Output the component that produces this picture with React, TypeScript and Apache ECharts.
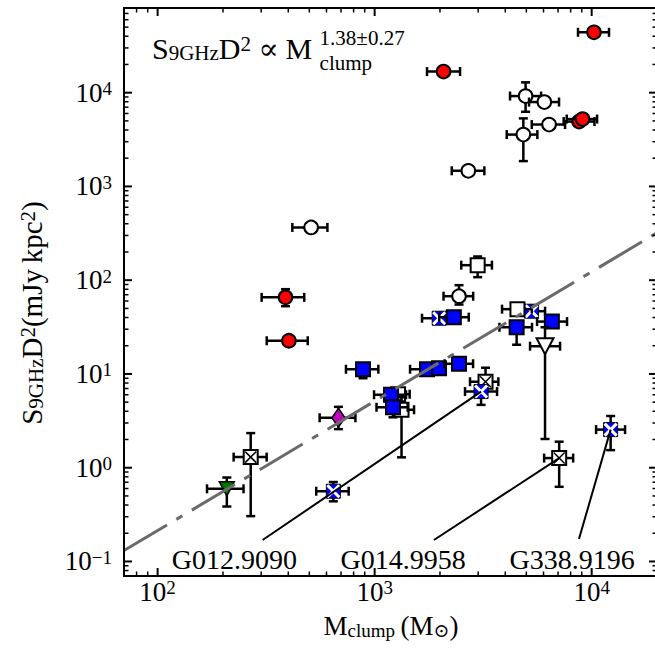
import React, { useEffect, useRef } from 'react';
import * as echarts from 'echarts';

const FONT = '"Liberation Serif", "DejaVu Serif", "Times New Roman", serif';

// Axis extents (log axes)
const X_RANGE = [70, 20000];
const Y_RANGE = [0.07, 80000];
const X_MAJOR = [100, 1000, 10000];
const Y_MAJOR = [0.1, 1, 10, 100, 1000, 10000];

// Power-law fit: S9GHz D^2 = 10^FIT_LOG_NORM * Mclump^FIT_SLOPE
const FIT_SLOPE = 1.38;
const FIT_LOG_NORM = -3.43;

// Each row: [Mclump, S9GHz D^2, M low, M high, S low, S high]
const redCircles = [
  [10250, 44050, 8650, 12020, 44050, 44050],
  [2077, 16800, 1743, 2475, 16800, 16800],
  [8750, 4920, 7430, 10300, 4920, 4920],
  [9078, 5230, 7677, 10590, 5230, 5230],
  [388.5, 65.6, 301.5, 473.8, 52.8, 80.2],
  [402.7, 22.6, 318.2, 491.6, 20.0, 25.0],
];

const openCircles = [
  [4960, 9203, 4206, 5847, 6256, 12880],
  [6053, 7943, 5146, 7073, 7943, 7943],
  [6363, 4569, 5296, 7542, 4569, 4569],
  [4844, 3573, 4061, 5620, 1863, 5320],
  [2702, 1468, 2266, 3203, 1468, 1468],
  [509.7, 365.3, 417.6, 605.9, 365.3, 365.3],
  [2448, 67.5, 2077, 2844, 55.0, 88.5],
];

const crossedBoxes = [
  [268.5, 1.298, 224, 318, 0.3046, 2.34],
  [3243, 8.26, 2751, 3716, 8.26, 11.65],
  [7084, 1.267, 6039, 8217, 0.626, 1.895],
];

const blueCrossBoxes = [
  [1984, 39.3, 1653, 2330, 39.3, 39.3],
  [5285, 46.7, 4700, 6100, 46.7, 46.7],
  [3093, 6.49, 2609, 3665, 4.68, 7.5],
  [645, 0.5614, 538, 759, 0.438, 0.704],
  [12230, 2.55, 10480, 14250, 1.54, 3.56],
];

const openSquares = [
  [2983, 144.6, 2506, 3471, 107.7, 179],
  [4550, 49.1, 3864, 5300, 49.1, 49.1],
  [1282, 6.08, 1150, 1450, 6.08, 6.08],
  [1330, 4.15, 1150, 1519, 1.29, 5.64],
];

const blueSquares = [
  [884.2, 11.23, 737.6, 1040, 9.0, 11.23],
  [1743, 11.23, 1456, 1743, 9.69, 11.23],
  [1980, 11.51, 1980, 1980, 11.51, 11.51],
  [2448, 12.85, 2100, 2841, 12.85, 12.85],
  [1190, 6.0, 993.6, 1395, 6.0, 6.0],
  [1215, 4.41, 1020, 1420, 3.45, 4.41],
  [2317, 40.3, 1984, 2714, 40.3, 40.3],
  [4511, 31.5, 3760, 5310, 20.5, 31.5],
  [6554, 36.2, 5602, 7700, 36.2, 36.2],
];

const magentaDiamonds = [[681, 3.41, 557.8, 815.5, 2.58, 4.46]];
const greenTriangles = [[208.4, 0.5957, 168.9, 248.8, 0.3858, 0.786]];
const openTriangles = [[6097, 19.76, 5201, 7150, 2.025, 31.5]];

// Named sources with leader lines
const sourceNames = ['G012.9090', 'G014.9958', 'G338.9196'];
const labelAnchors = [[225.6, 0.1054], [1354, 0.1054], [8131, 0.1054]];
const leaderStarts = [[304.7, 0.1693], [1876, 0.1693], [8740, 0.1735]];
const leaderEnds = [[3093, 6.49], [7084, 1.267], [12230, 2.55]];

type Kind =
  | 'redCircle' | 'openCircle' | 'crossedBox' | 'blueCross'
  | 'openSquare' | 'blueSquare' | 'diamond' | 'greenTri' | 'openTri';

function markerShapes(kind: Kind, cx: number, cy: number): any[] {
  const edge = { stroke: '#000', lineWidth: 2 };
  const h = 7;
  switch (kind) {
    case 'redCircle':
      return [{ type: 'circle', shape: { cx, cy, r: 6.8 }, style: { fill: '#ff0000', ...edge } }];
    case 'openCircle':
      return [{ type: 'circle', shape: { cx, cy, r: 6.8 }, style: { fill: '#ffffff', ...edge } }];
    case 'openSquare':
      return [{ type: 'rect', shape: { x: cx - h, y: cy - h, width: 2 * h, height: 2 * h }, style: { fill: '#ffffff', ...edge } }];
    case 'blueSquare':
      return [{ type: 'rect', shape: { x: cx - h, y: cy - h, width: 2 * h, height: 2 * h }, style: { fill: '#0000ff', ...edge } }];
    case 'crossedBox': {
      const k = h - 1.5;
      return [
        { type: 'rect', shape: { x: cx - h, y: cy - h, width: 2 * h, height: 2 * h }, style: { fill: '#ffffff', ...edge } },
        { type: 'line', shape: { x1: cx - k, y1: cy - k, x2: cx + k, y2: cy + k }, style: { stroke: '#000', lineWidth: 1.5 } },
        { type: 'line', shape: { x1: cx - k, y1: cy + k, x2: cx + k, y2: cy - k }, style: { stroke: '#000', lineWidth: 1.5 } },
      ];
    }
    case 'blueCross': {
      const k = h - 1;
      return [
        { type: 'rect', shape: { x: cx - h, y: cy - h, width: 2 * h, height: 2 * h }, style: { fill: '#0000ff', stroke: '#000', lineWidth: 1 } },
        { type: 'line', shape: { x1: cx - k, y1: cy - k, x2: cx + k, y2: cy + k }, style: { stroke: '#ffffff', lineWidth: 3 } },
        { type: 'line', shape: { x1: cx - k, y1: cy + k, x2: cx + k, y2: cy - k }, style: { stroke: '#ffffff', lineWidth: 3 } },
      ];
    }
    case 'diamond':
      return [{
        type: 'polygon',
        shape: { points: [[cx, cy - 9.5], [cx + 6.5, cy], [cx, cy + 9.5], [cx - 6.5, cy]] },
        style: { fill: '#bf00bf', stroke: '#000', lineWidth: 1.5 },
      }];
    case 'greenTri':
      return [{
        type: 'polygon',
        shape: { points: [[cx - 7.5, cy - 7], [cx + 7.5, cy - 7], [cx, cy + 7]] },
        style: { fill: '#007800', stroke: '#000', lineWidth: 1.5 },
      }];
    case 'openTri':
      return [{
        type: 'polygon',
        shape: { points: [[cx - 8.5, cy - 8], [cx + 8.5, cy - 8], [cx, cy + 8]] },
        style: { fill: '#ffffff', stroke: '#000', lineWidth: 2 },
      }];
  }
  return [];
}

// Error bars with caps, then the marker on top
function pointRenderer(kind: Kind) {
  return (_params: any, api: any) => {
    const x = api.value(0);
    const y = api.value(1);
    const c = api.coord([x, y]);
    const xl = api.coord([api.value(2), y])[0];
    const xh = api.coord([api.value(3), y])[0];
    const yl = api.coord([x, api.value(4)])[1];
    const yh = api.coord([x, api.value(5)])[1];
    const bar = { stroke: '#000', lineWidth: 2.5 };
    const cap = 4.5;
    const children: any[] = [];
    if (Math.abs(xh - xl) > 0.5) {
      children.push({ type: 'line', shape: { x1: xl, y1: c[1], x2: xh, y2: c[1] }, style: bar });
      if (c[0] - xl > 0.5) children.push({ type: 'line', shape: { x1: xl, y1: c[1] - cap, x2: xl, y2: c[1] + cap }, style: bar });
      if (xh - c[0] > 0.5) children.push({ type: 'line', shape: { x1: xh, y1: c[1] - cap, x2: xh, y2: c[1] + cap }, style: bar });
    }
    if (Math.abs(yl - yh) > 0.5) {
      children.push({ type: 'line', shape: { x1: c[0], y1: yh, x2: c[0], y2: yl }, style: bar });
      if (yl - c[1] > 0.5) children.push({ type: 'line', shape: { x1: c[0] - cap, y1: yl, x2: c[0] + cap, y2: yl }, style: bar });
      if (c[1] - yh > 0.5) children.push({ type: 'line', shape: { x1: c[0] - cap, y1: yh, x2: c[0] + cap, y2: yh }, style: bar });
    }
    children.push(...markerShapes(kind, c[0], c[1]));
    return { type: 'group', children };
  };
}

function pointSeries(name: string, rows: number[][], kind: Kind) {
  return {
    name,
    type: 'custom',
    coordinateSystem: 'cartesian2d',
    renderItem: pointRenderer(kind),
    encode: { x: 0, y: 1 },
    data: rows,
    clip: false,
    silent: true,
  };
}

const powerLabel = (v: number) => {
  const e = Math.log10(v);
  const r = Math.round(e);
  if (Math.abs(e - r) > 1e-6) return '';
  const s = r < 0 ? '\u2212' + -r : String(r);
  return `{b|10}{s|${s}}`;
};

const tickRich = {
  b: { fontFamily: FONT, fontSize: 27, color: '#000', lineHeight: 27, verticalAlign: 'bottom' },
  s: { fontFamily: FONT, fontSize: 19, color: '#000', lineHeight: 19, verticalAlign: 'top', padding: [0, 0, 12, 0] },
};

const mathRich = (main: number, small: number) => ({
  m: { fontFamily: FONT, fontSize: main, color: '#000', lineHeight: main, padding: [Math.round(main * 0.22), 0, Math.round(main * 0.22), 0], verticalAlign: 'middle' },
  sup: { fontFamily: FONT, fontSize: small, color: '#000', lineHeight: small, verticalAlign: 'top' },
  sub: { fontFamily: FONT, fontSize: small, color: '#000', lineHeight: small, verticalAlign: 'bottom' },
});

function buildOption() {
  const fitLine = X_RANGE.map((m) => [m, Math.pow(10, FIT_LOG_NORM) * Math.pow(m, FIT_SLOPE)]);
  return {
    animation: false,
    backgroundColor: '#ffffff',
    grid: { left: 124, top: 8, width: 533, height: 568, show: false, outerBoundsMode: 'none', containLabel: false },
    xAxis: {
      type: 'log', logBase: 10, min: X_RANGE[0], max: X_RANGE[1],
      axisLine: { show: false }, axisTick: { show: false }, splitLine: { show: false },
      axisLabel: { formatter: powerLabel, margin: 2, rich: tickRich },
    },
    yAxis: {
      type: 'log', logBase: 10, min: Y_RANGE[0], max: Y_RANGE[1],
      axisLine: { show: false }, axisTick: { show: false }, splitLine: { show: false },
      axisLabel: { formatter: powerLabel, margin: 12, rich: tickRich },
    },
    series: [
      {
        name: 'fit', type: 'line', data: fitLine, showSymbol: false, silent: true,
        lineStyle: { color: '#6a6a6a', width: 3, type: [50, 11, 7, 11] },
      },
      ...sourceNames.map((n, i) => ({
        name: n + ' leader', type: 'line', data: [leaderStarts[i], leaderEnds[i]], showSymbol: false, silent: true,
        lineStyle: { color: '#000', width: 2 },
      })),
      pointSeries('red', redCircles, 'redCircle'),
      pointSeries('open circles', openCircles, 'openCircle'),
      pointSeries('crossed', crossedBoxes, 'crossedBox'),
      pointSeries('blue crossed', blueCrossBoxes, 'blueCross'),
      pointSeries('open squares', openSquares, 'openSquare'),
      pointSeries('blue squares', blueSquares, 'blueSquare'),
      pointSeries('diamond', magentaDiamonds, 'diamond'),
      pointSeries('green', greenTriangles, 'greenTri'),
      pointSeries('open triangle', openTriangles, 'openTri'),
    ],
  };
}

function buildGraphic(chart: any) {
  const px = (v: number) => chart.convertToPixel({ xAxisIndex: 0 }, v) as number;
  const py = (v: number) => chart.convertToPixel({ yAxisIndex: 0 }, v) as number;
  const left = px(X_RANGE[0]);
  const right = px(X_RANGE[1]);
  const top = py(Y_RANGE[1]);
  const bottom = py(Y_RANGE[0]);

  const minorX: number[] = [];
  for (const d of [10, 100, 1000, 10000]) {
    for (let m = 2; m <= 9; m++) {
      const v = m * d;
      if (v > X_RANGE[0] - 1e-9 && v < X_RANGE[1]) minorX.push(v);
    }
  }
  const minorY: number[] = [];
  for (const d of [0.01, 0.1, 1, 10, 100, 1000, 10000]) {
    for (let m = 2; m <= 9; m++) {
      const v = m * d;
      if (v > Y_RANGE[0] * 0.999 && v < Y_RANGE[1] * 1.001) minorY.push(v);
    }
  }

  const els: any[] = [];
  const line = (x1: number, y1: number, x2: number, y2: number, w: number) =>
    els.push({ type: 'line', silent: true, z: 10, shape: { x1, y1, x2, y2 }, style: { stroke: '#000', lineWidth: w } });

  // Spines (the right one lies just past the drawing edge)
  line(left, top, left, bottom + 1, 2);
  line(left - 1, bottom, right + 1, bottom, 2);
  line(left - 1, top, right + 1, top, 2);
  line(right, top, right, bottom, 2);

  X_MAJOR.forEach((v) => { const x = px(v); line(x, bottom, x, bottom - 8, 2); line(x, top, x, top + 8, 2); });
  minorX.forEach((v) => { const x = px(v); line(x, bottom, x, bottom - 4.5, 1.5); line(x, top, x, top + 4.5, 1.5); });
  Y_MAJOR.forEach((v) => { const y = py(v); line(left, y, left + 8, y, 2); line(right, y, right - 8, y, 2); });
  minorY.forEach((v) => { const y = py(v); line(left, y, left + 4.5, y, 1.5); line(right, y, right - 4.5, y, 1.5); });

  // Source names at their anchors
  sourceNames.forEach((n, i) => {
    els.push({
      type: 'text', silent: true, z: 10,
      x: px(labelAnchors[i][0]), y: py(labelAnchors[i][1]),
      style: { text: n, fontFamily: FONT, fontSize: 28, fill: '#000', align: 'center', verticalAlign: 'middle' },
    });
  });

  // Axis titles
  els.push({
    type: 'text', silent: true, x: 391, y: 626, z: 10,
    style: {
      text: '{m|M}{sub|clump}{m|\u2009(M}{sub|\u2299}{m|)}',
      align: 'center', verticalAlign: 'middle', rich: mathRich(27, 19),
    },
  });
  els.push({
    type: 'text', silent: true, x: 32, y: 313, rotation: Math.PI / 2, z: 10,
    style: {
      text: '{m|S}{sub|9GHz}{m|D}{sup|2}{m|(mJy\u2009kpc}{sup|2}{m|)}',
      align: 'center', verticalAlign: 'middle', rich: mathRich(29, 21),
    },
  });

  // Fit relation in the upper-left corner
  els.push({
    type: 'text', silent: true, x: 152, y: 48, z: 10,
    style: {
      text: '{m|S}{sub|9GHz}{m|D}{sup|2}{m| \u221D }',
      align: 'left', verticalAlign: 'middle', rich: mathRich(30, 21),
    },
  });
  els.push({
    type: 'text', silent: true, x: 285.5, y: 48.5, z: 10,
    style: { text: 'M', fontFamily: FONT, fontSize: 30, fill: '#000', align: 'left', verticalAlign: 'middle' },
  });
  els.push({
    type: 'text', silent: true, x: 319.6, y: 38, z: 10,
    style: { text: '1.38\u00B10.27', fontFamily: FONT, fontSize: 21, fill: '#000', align: 'left', verticalAlign: 'middle' },
  });
  els.push({
    type: 'text', silent: true, x: 319.6, y: 63, z: 10,
    style: { text: 'clump', fontFamily: FONT, fontSize: 21, fill: '#000', align: 'left', verticalAlign: 'middle' },
  });
  return els;
}

export default function App() {
  const ref = useRef<HTMLDivElement>(null);
  useEffect(() => {
    const el = ref.current;
    if (!el) return;
    const chart = echarts.init(el, undefined, { renderer: 'svg' });
    chart.setOption(buildOption() as any);
    chart.setOption({ graphic: { elements: buildGraphic(chart) } } as any);
    return () => chart.dispose();
  }, []);
  return (
    <div
      ref={ref}
      style={{ position: 'fixed', left: 0, top: 0, width: 655, height: 648, background: '#fff' }}
    />
  );
}
